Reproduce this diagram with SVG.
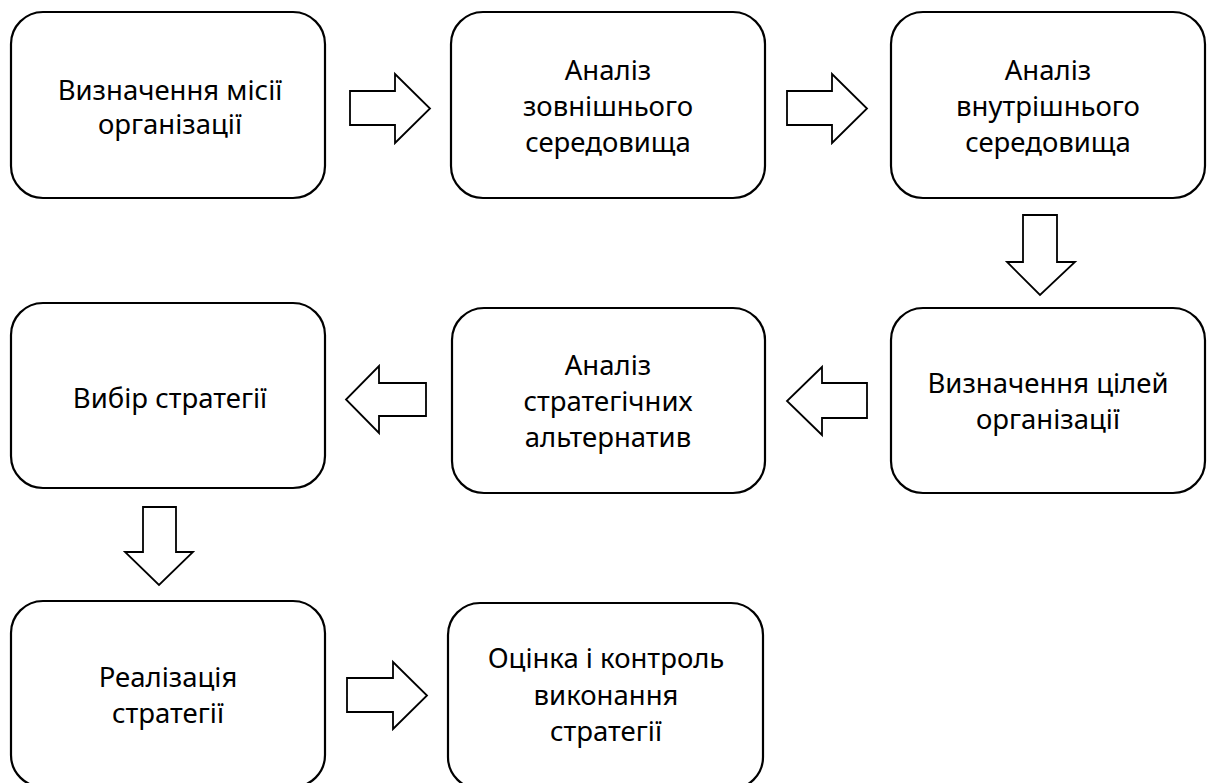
<svg xmlns="http://www.w3.org/2000/svg" width="1208" height="783" viewBox="0 0 1208 783">
<style>
.box{fill:#fff;stroke:#000;stroke-width:2.2}
.arr{fill:#fff;stroke:#000;stroke-width:1.8;stroke-linejoin:miter}
.t{font-family:"Noto Sans","Liberation Serif",sans-serif;font-size:27.5px;fill:#000;text-anchor:middle}
</style>
<rect width="1208" height="783" fill="#fff"/>
<g id="connectors">
<polygon class="arr" points="350,91 395,91 395,74 430,108.5 395,143 395,125 350,125"/>
<polygon class="arr" points="787,91 832,91 832,74 867,108.5 832,143 832,125 787,125"/>
<polygon class="arr" points="1023,215 1057,215 1057,262 1075,262 1040,295 1007,262 1023,262"/>
<polygon class="arr" points="867,383 822,383 822,367 787,401 822,435 822,418 867,418"/>
<polygon class="arr" points="426,383 379,383 379,366 346,399.5 379,433 379,416 426,416"/>
<polygon class="arr" points="143,507 176,507 176,552 193,552 159,585 125,552 143,552"/>
<polygon class="arr" points="347,678 393,678 393,662 427,695.5 393,729 393,712 347,712"/>
</g>
<g id="n1"><rect class="box" x="11" y="12" width="314" height="186" rx="32"/>
<text class="t" x="170" y="100">Визначення місії</text><text class="t" x="170" y="134">організації</text></g>
<g id="n2"><rect class="box" x="451" y="12" width="314" height="186" rx="32"/>
<text class="t" x="608" y="80">Аналіз</text><text class="t" x="608" y="116">зовнішнього</text><text class="t" x="608" y="152">середовища</text></g>
<g id="n3"><rect class="box" x="891" y="12" width="314" height="186" rx="32"/>
<text class="t" x="1048" y="80">Аналіз</text><text class="t" x="1048" y="116">внутрішнього</text><text class="t" x="1048" y="152">середовища</text></g>
<g id="n4"><rect class="box" x="891" y="308" width="314" height="185" rx="32"/>
<text class="t" x="1048" y="393">Визначення цілей</text><text class="t" x="1048" y="429">організації</text></g>
<g id="n5"><rect class="box" x="452" y="308" width="313" height="185" rx="32"/>
<text class="t" x="608" y="375">Аналіз</text><text class="t" x="608" y="411">стратегічних</text><text class="t" x="608" y="447">альтернатив</text></g>
<g id="n6"><rect class="box" x="11" y="303" width="314" height="185" rx="32"/>
<text class="t" x="170" y="408">Вибір стратегії</text></g>
<g id="n7"><rect class="box" x="11" y="601" width="314" height="186" rx="32"/>
<text class="t" x="168" y="687">Реалізація</text><text class="t" x="168" y="723">стратегії</text></g>
<g id="n8"><rect class="box" x="448" y="603" width="315" height="186" rx="32"/>
<text class="t" x="606" y="668">Оцінка і контроль</text><text class="t" x="606" y="705">виконання</text><text class="t" x="606" y="741">стратегії</text></g>
</svg>
